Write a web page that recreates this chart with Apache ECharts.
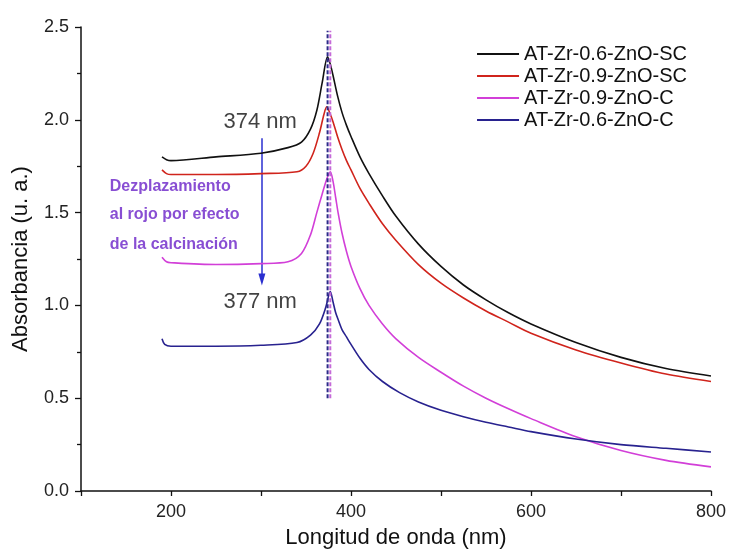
<!DOCTYPE html>
<html>
<head>
<meta charset="utf-8">
<script src="https://cdn.jsdelivr.net/npm/echarts@6/dist/echarts.min.js"></script>
<style>
  html, body { margin: 0; padding: 0; background: #fff; }
  #chart { width: 729px; height: 554px; }
</style>
</head>
<body>
<div id="chart"></div>
<script>
// wavelength (nm) / absorbance (u. a.)
const wlBlack = [190, 195, 200, 250, 300, 330, 345, 355, 362, 368, 374, 377, 380, 385, 390, 395, 400, 410, 420, 435, 450, 475, 500, 525, 550, 575, 600, 650, 700, 750, 800]
const absBlack = [1.80, 1.785, 1.78, 1.80, 1.82, 1.85, 1.88, 1.95, 2.05, 2.20, 2.34, 2.30, 2.24, 2.13, 2.04, 1.97, 1.91, 1.80, 1.71, 1.59, 1.48, 1.33, 1.21, 1.11, 1.03, 0.96, 0.90, 0.80, 0.72, 0.66, 0.62]

const wlRed = [190, 195, 200, 250, 300, 340, 350, 358, 365, 370, 373, 377, 380, 385, 390, 395, 400, 410, 420, 435, 450, 475, 500, 525, 550, 575, 600, 650, 700, 750, 800]
const absRed = [1.73, 1.71, 1.705, 1.705, 1.71, 1.72, 1.75, 1.82, 1.93, 2.03, 2.07, 2.03, 1.99, 1.91, 1.84, 1.78, 1.73, 1.63, 1.55, 1.44, 1.35, 1.22, 1.12, 1.04, 0.97, 0.91, 0.85, 0.76, 0.69, 0.63, 0.59]

const wlMagenta = [190, 195, 200, 250, 300, 330, 345, 355, 362, 368, 373, 377, 380, 383, 386, 390, 395, 400, 410, 420, 435, 450, 475, 500, 525, 550, 575, 600, 650, 700, 750, 800]
const absMagenta = [1.26, 1.235, 1.23, 1.22, 1.225, 1.235, 1.28, 1.38, 1.50, 1.60, 1.68, 1.72, 1.67, 1.58, 1.49, 1.39, 1.29, 1.21, 1.09, 1.00, 0.90, 0.82, 0.72, 0.64, 0.565, 0.50, 0.443, 0.39, 0.292, 0.218, 0.165, 0.13]

const wlBlue = [190, 193, 200, 250, 300, 340, 355, 365, 372, 377, 380, 383, 386, 390, 395, 400, 410, 420, 435, 454, 475, 500, 525, 550, 575, 600, 650, 700, 750, 800]
const absBlue = [0.82, 0.79, 0.78, 0.78, 0.785, 0.80, 0.84, 0.90, 0.99, 1.075, 1.02, 0.96, 0.92, 0.87, 0.83, 0.79, 0.715, 0.655, 0.59, 0.53, 0.48, 0.435, 0.40, 0.37, 0.345, 0.32, 0.28, 0.25, 0.23, 0.21]

const seriesNames = ['AT-Zr-0.6-ZnO-SC', 'AT-Zr-0.9-ZnO-SC', 'AT-Zr-0.9-ZnO-C', 'AT-Zr-0.6-ZnO-C']
const seriesColors = ['#111111', '#d0241c', '#d23fd8', '#28228f']

const peakLines = [374, 377]
const peakRange = [0.5, 2.48]
const shiftNote = ['Dezplazamiento', 'al rojo por efecto', 'de la calcinación']

const font = '"Liberation Sans", Arial, sans-serif'

function zip(xs, ys) {
    return xs.map((x, i) => [x, ys[i]])
}

const chart = echarts.init(document.getElementById('chart'))

const curves = [
    [wlBlack, absBlack],
    [wlRed, absRed],
    [wlMagenta, absMagenta],
    [wlBlue, absBlue]
].map((d, i) => ({
    name: seriesNames[i],
    type: 'line',
    data: zip(d[0], d[1]),
    smooth: 0.3,
    showSymbol: false,
    lineStyle: { color: seriesColors[i], width: 1.6 },
    itemStyle: { color: seriesColors[i] },
    z: 5
}))

chart.setOption({
    animation: false,
    backgroundColor: '#fff',
    textStyle: { fontFamily: font },
    grid: { left: 81, right: 18, top: 27, bottom: 61 },
    legend: {
        data: seriesNames,
        orient: 'vertical',
        right: 37,
        top: 39,
        itemWidth: 42,
        itemHeight: 2,
        itemGap: 2,
        icon: 'rect',
        textStyle: { fontSize: 20, color: '#111', fontFamily: font }
    },
    xAxis: {
        type: 'value',
        min: 100,
        max: 800,
        interval: 100,
        name: 'Longitud de onda (nm)',
        nameLocation: 'middle',
        nameGap: 36,
        nameTextStyle: { fontSize: 22, color: '#111' },
        axisLine: { lineStyle: { color: '#111', width: 1.5 } },
        axisTick: { length: 5, lineStyle: { color: '#111', width: 1.3 } },
        axisLabel: {
            fontSize: 18,
            color: '#222',
            margin: 12,
            formatter: v => (v % 200 === 0 ? String(v) : '')
        },
        splitLine: { show: false }
    },
    yAxis: {
        type: 'value',
        min: 0,
        max: 2.5,
        interval: 0.5,
        name: 'Absorbancia (u. a.)',
        nameLocation: 'middle',
        nameGap: 49,
        nameTextStyle: { fontSize: 22, color: '#111' },
        axisLine: { show: true, lineStyle: { color: '#111', width: 1.5 } },
        axisTick: { show: true, length: 6, lineStyle: { color: '#111', width: 1.3 } },
        minorTick: { show: true, splitNumber: 2, length: 4, lineStyle: { color: '#111', width: 1.3 } },
        axisLabel: { fontSize: 18, color: '#222', margin: 12, formatter: v => v.toFixed(1) },
        splitLine: { show: false }
    },
    series: curves.concat([
        {
            type: 'line',
            data: zip([peakLines[0], peakLines[0]], peakRange),
            showSymbol: false,
            lineStyle: { color: '#2d2a8a', width: 2, type: [4, 2] },
            silent: true,
            z: 6
        },
        {
            type: 'line',
            data: zip([peakLines[1], peakLines[1]], peakRange),
            showSymbol: false,
            lineStyle: { color: '#c56ad8', width: 2, type: [4, 2] },
            silent: true,
            z: 6
        },
        {
            // arrow and annotations
            type: 'scatter',
            symbolSize: 0,
            silent: true,
            data: [
                { value: [299, 1.99], label: { show: true, formatter: '374 nm' } },
                { value: [299, 1.016], label: { show: true, formatter: '377 nm' } }
            ],
            label: { color: '#111', fontSize: 22, position: 'inside' },
            markLine: {
                silent: true,
                symbol: ['none', 'triangle'],
                symbolSize: [7, 12],
                label: { show: false },
                lineStyle: { color: '#2a2fd0', width: 1.5, type: 'solid' },
                data: [[{ coord: [301, 1.90] }, { coord: [301, 1.14] }]]
            },
            z: 7
        },
        {
            type: 'scatter',
            symbolSize: 0,
            silent: true,
            data: [[132, 1.64], [132, 1.49], [132, 1.33]].map((p, i) => ({
                value: p,
                label: { show: true, formatter: shiftNote[i] }
            })),
            label: { color: '#6a22c8', fontSize: 16, fontWeight: 'bold', position: 'right', distance: 0 },
            z: 7
        }
    ])
})
</script>
</body>
</html>
